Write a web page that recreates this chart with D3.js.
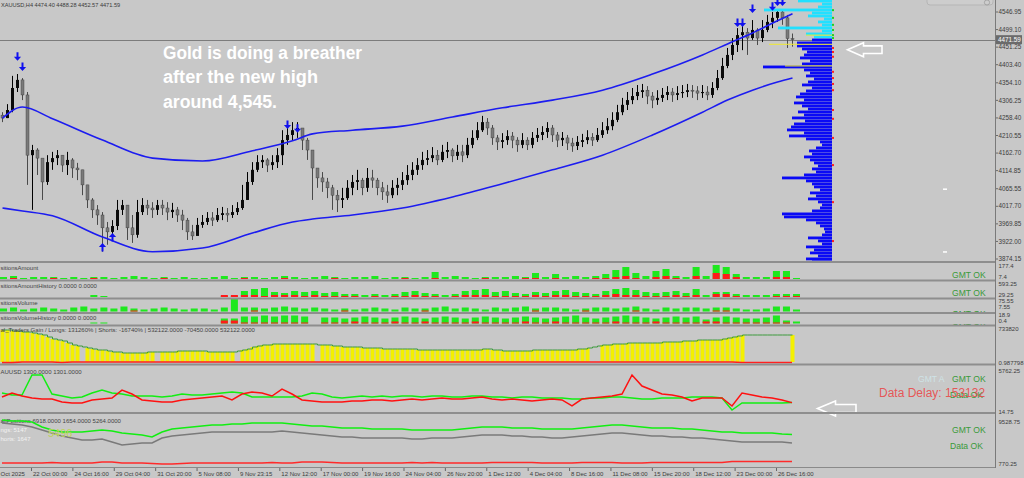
<!DOCTYPE html>
<html><head><meta charset="utf-8">
<script src="https://cdn.jsdelivr.net/npm/d3@7/dist/d3.min.js"></script>
<style>
html,body{margin:0;padding:0;background:#c8c8c8;overflow:hidden;}
svg{display:block;}
text{font-family:"Liberation Sans",Arial,sans-serif;}
</style></head><body>
<svg id="chart" width="1024" height="478"></svg>
<script>
// ---------------- DATA ----------------
const symbol = "XAUUSD,H4";
const firstOpen = 4266;
const closes = [
4258,4280,4340,4362,4321,4157,4171,4149,4084,4138,
4149,4157,4130,4144,4122,4117,4076,4035,4008,3994,
3959,3948,3964,4008,4021,3959,3940,4002,4021,4013,
4008,4021,4013,4002,4008,3994,3980,3948,3937,3967,
3975,3986,3980,3994,3999,3994,4002,4013,4035,4084,
4117,4138,4144,4130,4138,4157,4198,4212,4225,4231,
4198,4171,4122,4095,4084,4068,4048,4035,4040,4068,
4084,4089,4068,4095,4089,4068,4057,4048,4068,4076,
4089,4103,4117,4130,4144,4149,4157,4144,4166,4171,
4155,4166,4157,4185,4204,4225,4247,4231,4204,4193,
4198,4209,4198,4185,4198,4185,4204,4212,4220,4231,
4212,4198,4204,4190,4182,4193,4198,4206,4198,4212,
4225,4236,4253,4274,4294,4307,4318,4329,4334,4318,
4307,4313,4321,4329,4321,4326,4329,4334,4332,4326,
4329,4321,4340,4367,4400,4430,4457,4484,4492,4476,
4498,4476,4498,4520,4531,4547,4531,4474.40,4471.59];
const highs = [
4274,4296,4373,4378,4367,4329,4185,4176,4130,4157,
4166,4171,4157,4166,4149,4136,4117,4076,4040,4021,
4002,3975,3980,4035,4035,4021,3994,4035,4040,4035,
4029,4035,4035,4029,4027,4016,4008,3986,3967,3986,
3994,4002,4002,4013,4016,4013,4021,4029,4076,4111,
4138,4157,4157,4149,4157,4176,4225,4234,4247,4247,
4225,4204,4171,4122,4111,4095,4076,4062,4068,4089,
4103,4117,4095,4122,4117,4095,4084,4076,4089,4095,
4111,4130,4138,4149,4166,4171,4179,4171,4185,4193,
4176,4185,4185,4204,4225,4247,4264,4258,4239,4212,
4217,4225,4220,4206,4217,4206,4220,4231,4236,4247,
4239,4220,4220,4212,4204,4209,4215,4225,4217,4231,
4247,4258,4274,4294,4313,4329,4340,4348,4351,4345,
4329,4334,4340,4345,4340,4345,4348,4351,4348,4345,
4348,4345,4356,4389,4422,4449,4476,4503,4512,4503,
4525,4503,4525,4539,4547,4555,4552,4539,4488.28];
const lows = [
4247,4258,4274,4329,4307,4076,4008,4103,4035,4076,
4117,4130,4111,4103,4095,4089,4048,4013,3986,3967,
3894,3913,3932,3953,3994,3926,3918,3932,3994,3994,
3986,3994,3994,3980,3986,3975,3953,3926,3926,3948,
3959,3967,3964,3975,3980,3975,3986,3994,4008,4035,
4076,4111,4122,4111,4117,4122,4130,4185,4198,4204,
4171,4144,4035,4068,4057,4040,4008,4002,4013,4035,
4048,4062,4048,4057,4068,4048,4035,4027,4040,4048,
4062,4076,4089,4103,4117,4130,4138,4130,4138,4149,
4138,4144,4138,4149,4176,4198,4220,4212,4185,4171,
4176,4185,4176,4166,4176,4171,4176,4193,4198,4204,
4193,4179,4182,4171,4166,4171,4179,4187,4182,4193,
4204,4215,4225,4247,4266,4280,4296,4307,4313,4296,
4285,4294,4302,4307,4302,4307,4313,4315,4313,4307,
4313,4307,4313,4334,4362,4394,4416,4438,4443,4430,
4471,4457,4465,4492,4503,4520,4512,4449,4452.57];

const bandIdx   = [0,4,10,20,30,40,50,58,62,70,80,90,100,110,120,130,140,145,150,155,158];
const upperBand = [4258,4288,4256,4198,4149,4141,4169,4196,4215,4225,4236,4261,4286,4307,4334,4378,4430,4460,4490,4523,4542];
const lowerBand = [4013,4005,3992,3934,3894,3904,3945,3975,3983,3994,4013,4043,4079,4117,4157,4212,4274,4307,4334,4356,4367];

const sellSignals = [[3,4425],[4,4397],[57,4239],[59,4229],[147,4517],[148,4517],[150,4555],[154,4561],[155,4574],[156,4574]];
const buySignals  = [[20,3907],[22,3934]];
const bidPrice = 4471.59;
const priceTicks = ["4546.95","4499.10","4451.25","4403.40","4354.10","4306.25","4258.40","4210.55","4162.70","4114.85","4065.55","4017.70","3969.85","3922.00","3874.15"];

// volume profile (bins from top price downward)
const profileTop = 4577.0, profileStep = 8.17;
const profileVolumes = [
34,10,14,68,20,24,8,14,10,54,
10,26,18,20,35,35,30,25,28,32,
22,30,69,28,22,26,18,24,30,20,
26,32,36,28,38,30,24,34,28,40,
27,38,41,45,28,43,26,12,10,16,
23,20,28,22,18,14,20,16,28,50,
26,20,18,12,22,16,24,14,10,12,
20,50,48,26,16,12,8,7,10,24,
14,10,26,18,22,14,26,20];
const profileLevels = [[4484,26],[4459,63],[4400,47]];
const deltaRedPrices = [4449,4438,4425,4384,4367,4351,4334,4280,4256,4204,4130,4029,3923];
const deltaGreenPrices = [4552,4531,4512,4498,4484,4476];
const pendingLevels = [4065,3894];

const timeLabels = ["Oct 2025","22 Oct 00:00","24 Oct 16:00","29 Oct 04:00","31 Oct 20:00","5 Nov 08:00","9 Nov 23:15","12 Nov 12:00","17 Nov 00:00","19 Nov 16:00","24 Nov 04:00","26 Nov 20:00","1 Dec 12:00","4 Dec 04:00","8 Dec 16:00","11 Dec 08:00","15 Dec 20:00","18 Dec 12:00","23 Dec 00:00","26 Dec 16:00"];

// sub panels (80 slots)
const amountGreen = [2,3,1,2,2,2,1,2,1,2, 2,1,2,3,2,1,2,1,2,1, 1,2,3,1,2,2,1,2,3,2, 1,2,3,2,1,2,2,3,1,2, 2,1,2,7,2,3,2,1,2,2, 2,3,2,6,2,5,2,3,2,3, 5,9,12,6,3,8,10,3,2,12, 3,14,12,5,2,2,2,8,8,1];
const amountRed   = [0,1,0,0,0,1,0,0,0,1, 0,0,0,0,0,0,1,0,0,0, 0,0,0,0,1,0,0,0,1,0, 0,0,0,1,0,0,0,0,0,0, 1,0,0,1,0,0,0,0,1,0, 0,0,1,1,0,1,0,0,0,1, 1,2,3,1,0,2,3,1,0,3, 0,6,5,2,0,0,0,2,2,0];
const amountHistGreen = [0,0,0,0,0,0,0,0,0,2, 1,0,0,0,0,0,0,0,0,0, 0,0,1,1,6,8,9,5,4,6, 5,6,4,5,3,3,2,3,2,3, 5,6,4,3,2,3,6,7,8,5, 6,4,3,5,4,6,7,5,4,3, 6,8,9,7,5,4,5,6,4,8, 2,5,5,3,2,2,2,3,3,3];
const amountHistRed   = [0,0,0,0,0,0,0,0,0,0, 0,0,0,0,0,0,0,0,0,0, 0,0,2,2,2,2,1,2,2,2, 1,2,1,1,1,1,0,1,0,1, 1,2,1,1,0,1,2,2,2,1, 1,1,1,2,1,2,2,1,1,1, 2,3,2,2,1,1,1,2,1,2, 0,3,3,1,0,0,0,1,1,1];
const volumeGreen = [3,4,2,3,4,3,2,4,5,3, 4,3,5,3,2,3,4,3,2,3, 3,2,4,13,4,4,3,4,5,4, 3,4,3,2,3,2,3,4,3,2, 4,3,3,4,5,3,4,3,2,4, 3,4,5,3,4,4,3,2,3,4, 4,3,4,5,3,2,4,3,4,4, 3,4,4,3,2,2,3,5,5,2];
const volumeRed   = [0,0,0,0,0,0,0,0,0,0, 0,0,0,1,0,0,0,0,0,0, 0,0,0,0,0,1,0,0,0,0, 0,0,0,0,1,0,0,0,0,0, 0,0,1,0,0,0,0,0,0,0, 0,0,0,1,0,0,0,0,1,0, 0,0,0,1,0,0,0,0,0,0, 0,1,1,0,0,0,0,0,0,0];
const volumeHistGreen = [0,0,0,0,0,0,0,0,0,1, 1,0,0,0,0,0,0,0,0,0, 0,0,5,5,7,7,8,7,8,8, 7,0,6,6,5,6,7,6,5,6, 7,6,5,6,7,6,5,6,7,6, 5,6,7,6,5,6,7,8,6,5, 6,7,8,7,6,5,6,7,6,7, 4,6,7,6,5,5,6,8,3,2];
const volumeHistRed   = [0,0,0,0,0,0,0,0,0,0, 0,0,0,0,0,0,0,0,0,0, 0,0,3,3,1,1,1,1,1,1, 1,0,1,1,1,2,1,1,1,2, 1,1,2,1,1,1,1,2,1,1, 1,1,2,1,1,2,1,1,1,1, 1,2,1,1,1,2,1,1,1,1, 2,2,1,1,1,1,1,1,1,0];

// traders gain (per bar, 159)
const gain = [
32,32,31,31,30,30,29,28,27,25, 23,22,21,19,17,16,15,14,13,12,
12,11,10,10,9,9,9,9,9,10, 10,10,10,10,10,11,11,11,11,11,
11,10,10,10,10,10,10,11,12,13, 15,16,17,17,18,18,18,18,18,18,
18,18,18,17,17,17,16,16,15,15, 15,15,14,14,14,14,13,13,13,13,
13,13,13,12,12,12,12,12,12,12, 12,12,12,12,12,12,13,13,12,12,
11,11,11,11,11,11,12,12,12,12, 12,12,12,12,12,13,13,14,15,16,
17,17,18,18,18,19,19,19,19,19, 19,19,20,20,20,20,21,21,21,22,
22,22,22,22,23,24,25,26,27,27, 27,27,27,27,27,27,27,27,27];
const gainGaps = [16,31,47,63,118,119,149,150,151,152,153,154,155,156,157];
const gainRed = [-0.6,-0.6,0,0,0,0,-0.5,0,0,0, 0,0,0,0,0,0,0,0,0,0, 0,0,0,0,0,0,0,0,0,0, 0,0,0,0,0,0,0,0,0,0, 0,0,0,0,0,0,0,0,0,0, 0,0,0,0,0,0,0,0,0,0, 0,0,0,0,0,0,0,0,0,0, 0,0,0,0,-0.5,-0.5,-0.5,-0.5,-0.5,-0.5];

// XAUUSD spread / delay panel (80 slots)
const delayGreen = [2610,2340,2340,5080,5080,2480,2200,1930,2070,2610, 3020,2610,2480,2200,2200,2200,2070,2200,2480,2340, 2340,2480,2610,2750,2610,2070,2070,2070,2070,2070, 2200,2610,2480,2070,1930,2070,2200,2070,2200,2070, 2200,2200,2070,2200,2200,2070,2070,2200,2200,2070, 2070,1930,2070,2070,1930,1930,1930,1790,1790,1930, 1930,2070,2070,1930,1790,1790,1930,1930,1930,2070, 2070,2070,1930,290,1250,1250,1250,1250,1250,1300];
const delayRed = [2070,2610,2200,1930,1790,1790,1380,1250,1250,1660, 1790,1930,3020,2480,1660,1520,1380,1380,1660,1790, 1930,2070,2200,1660,2480,2750,2610,2200,3160,2480, 1660,1520,1380,1380,1380,1520,1520,1660,1660,1520, 1660,1790,1660,1790,1930,1790,1790,1930,2070,1790, 1660,1790,1660,1520,1660,1790,1660,840,1790,1930, 2070,2200,2480,5080,3570,3020,2480,2340,2070,1520, 1930,1930,1930,840,2610,2340,2070,1930,1660,1301];

// positions panel (80 slots)
const posGreen = [9720,9530,9530,9330,8360,7780,7390,7390,7390,7580, 7780,7580,7190,7000,6800,6410,7390,7970,8170,8360, 8550,8750,8750,8940,8940,9140,9140,9140,9140,8940, 8750,8550,8550,8360,8170,8170,8170,7970,7970,7970, 7970,7780,7780,7780,7780,7780,7970,8170,8360,8360, 8360,8170,8170,8170,7970,7970,7970,7970,8170,8360, 8550,8750,8750,8550,8360,8170,8170,8170,7970,7970, 7780,7580,7390,7390,7190,7190,7190,7190,7000,6918];
const posGray = [9140,8940,8750,8360,7780,7190,6610,6220,5830,5830, 6020,5440,4860,5050,5250,5250,6220,6610,6800,7000, 7190,7390,7390,7390,7390,7390,7390,7390,7580,7390, 7190,7000,6800,6610,6410,6410,6220,6220,6220,6220, 6220,6020,6020,6220,6220,6220,6410,6610,6800,6800, 6800,6610,6610,6410,6410,6220,6220,6410,6610,6800, 7000,7190,7190,7000,6800,6610,6610,6410,6410,6220, 6220,6020,5830,5640,5440,5440,5440,5440,5440,5264];
const posRed = [1350,1350,1350,1350,1350,1450,1350,1350,1350,1350, 1550,1550,1350,1350,1350,1250,1160,1160,1250,1350, 1350,1350,1350,1350,1350,1350,1350,1450,1350,1350, 1550,1550,1550,1450,1350,1350,1350,1350,1350,1350, 1350,1450,1350,1450,1350,1350,1350,1350,1350,1450, 1450,1450,1450,1450,1350,1350,1350,1350,1450,1450, 1450,1450,1350,1350,1350,1450,1450,1450,1450,1450, 1450,1450,1450,1650,1650,1650,1650,1650,1650,1654];

const noteLines = ["Gold is doing a breather","after the new high","around 4,545."];

// ---------------- DRAW ----------------
const W = 1024, H = 478, AX = 995;
const svg = d3.select("#chart");
svg.append("rect").attr("width", W).attr("height", H).attr("fill", "#c8c8c8");
const defs = svg.append("defs");
function clip(id, x, y, w, h) { defs.append("clipPath").attr("id", id).append("rect").attr("x", x).attr("y", y).attr("width", w).attr("height", h); return `url(#${id})`; }

const n = closes.length;
const bars = d3.range(n).map(i => ({ i, o: i === 0 ? firstOpen : closes[i - 1], h: highs[i], l: lows[i], c: closes[i] }));
const xC = d3.scaleLinear().domain([0, n - 1]).range([2.5, 792.5]);
const yP = d3.scaleLinear().domain([3874.15, 4546.95]).range([259, 12]);

// main panel
const gm = svg.append("g").attr("clip-path", clip("cm", 0, 0, AX, 261));

// bid line
gm.append("line").attr("x1", 0).attr("x2", AX).attr("y1", Math.round(yP(bidPrice)) + 0.5).attr("y2", Math.round(yP(bidPrice)) + 0.5).attr("stroke", "#7c7c7c").attr("stroke-width", 1);

// candles
const cg = gm.append("g");
cg.selectAll("line.w").data(bars).join("line")
  .attr("x1", d => xC(d.i)).attr("x2", d => xC(d.i))
  .attr("y1", d => yP(d.h)).attr("y2", d => yP(d.l))
  .attr("stroke", d => d.c >= d.o ? "#000" : "#4a4a4a").attr("stroke-width", 1);
cg.selectAll("rect.b").data(bars).join("rect")
  .attr("x", d => xC(d.i) - 1.5).attr("width", 3)
  .attr("y", d => yP(Math.max(d.o, d.c)))
  .attr("height", d => Math.max(1, Math.abs(yP(d.o) - yP(d.c))))
  .attr("fill", d => d.c >= d.o ? "#0a0a0a" : "#7a7a7a")
  .attr("stroke", d => d.c >= d.o ? "none" : "#3a3a3a").attr("stroke-width", 0.4);

// bands
const bandLine = d3.line().x(d => xC(d[0])).y(d => yP(d[1])).curve(d3.curveMonotoneX);
[upperBand, lowerBand].forEach(b => {
  gm.append("path").attr("d", bandLine(bandIdx.map((ix, k) => [ix, b[k]])))
    .attr("fill", "none").attr("stroke", "#1c1cf0").attr("stroke-width", 1.6);
});

// volume profile
const xPr = d3.scaleLinear().domain([0, 70]).range([832, 762]);
const prof = profileVolumes.map((v, k) => ({ v, p: profileTop - k * profileStep }));
gm.append("g").selectAll("rect").data(prof).join("rect")
  .attr("x", d => xPr(d.v)).attr("width", d => xPr(0) - xPr(d.v))
  .attr("y", d => yP(d.p) - 1.4).attr("height", 2.8)
  .attr("fill", d => d.p > bidPrice ? "#22e0ff" : "#0a0af5");
gm.append("g").selectAll("line").data(profileLevels).join("line")
  .attr("x1", d => xPr(d[1])).attr("x2", xPr(0))
  .attr("y1", d => yP(d[0])).attr("y2", d => yP(d[0]))
  .attr("stroke", "#f0ea30").attr("stroke-width", 1);
gm.append("g").selectAll("rect").data(deltaRedPrices).join("rect")
  .attr("x", 832).attr("y", d => yP(d) - 1).attr("width", 2).attr("height", 2).attr("fill", "#ff2020");
gm.append("g").selectAll("rect").data(deltaGreenPrices).join("rect")
  .attr("x", 832).attr("y", d => yP(d) - 1).attr("width", 2).attr("height", 2).attr("fill", "#20d020");
gm.append("g").selectAll("rect").data(pendingLevels).join("rect")
  .attr("x", 943).attr("y", d => yP(d) - 0.5).attr("width", 4).attr("height", 1.5).attr("fill", "#ffffff");

// signal arrows
function arrowDown(cx, cy) { return `M${cx - 1},${cy - 4.5}h2v4.5h2.6l-3.6,4l-3.6,-4h2.6z`; }
function arrowUp(cx, cy) { return `M${cx - 1},${cy + 4.5}h2v-4.5h2.6l-3.6,-4l-3.6,4h2.6z`; }
gm.append("g").selectAll("path").data(sellSignals).join("path")
  .attr("d", d => arrowDown(xC(d[0]), yP(d[1]))).attr("fill", "#1010ee");
gm.append("g").selectAll("path").data(buySignals).join("path")
  .attr("d", d => arrowUp(xC(d[0]), yP(d[1]))).attr("fill", "#1010ee");

// note
const nt = svg.append("g");
const noteW = [199, 155, 114];
noteLines.forEach((t, k) => {
  nt.append("text").attr("x", 163).attr("y", 58.5 + k * 24.5).text(t)
    .attr("font-family", "Lato, 'Open Sans', sans-serif").attr("font-weight", 700)
    .attr("font-size", 17.5).attr("fill", "#ffffff")
    .attr("textLength", noteW[k]).attr("lengthAdjust", "spacingAndGlyphs");
});

// header
const last = bars[n - 1];
svg.append("text").attr("x", 1).attr("y", 6.5).attr("font-size", 5.6).attr("fill", "#3a3a3a")
  .text(`${symbol}  ${last.o.toFixed(2)} ${last.h.toFixed(2)} ${last.l.toFixed(2)} ${last.c.toFixed(2)}`);

// top-right widget
svg.append("rect").attr("x", 927).attr("y", -4).attr("width", 66).attr("height", 9).attr("rx", 3).attr("fill", "#cdcdcd").attr("stroke", "#b5b5b5");
svg.append("circle").attr("cx", 987).attr("cy", 2.5).attr("r", 2.6).attr("fill", "none").attr("stroke", "#9a9a9a").attr("stroke-width", 0.8);

// white hint arrows
function hintArrow(x0, yc, len, head, hh, sh) {
  return `M${x0},${yc}L${x0 + head},${yc - hh}L${x0 + head},${yc - sh}L${x0 + len},${yc - sh}L${x0 + len},${yc + sh}L${x0 + head},${yc + sh}L${x0 + head},${yc + hh}Z`;
}
svg.append("path").attr("d", hintArrow(847.5, 49.7, 34.5, 16, 7, 3.8)).attr("fill", "none").attr("stroke", "#ffffff").attr("stroke-width", 1.6);
svg.append("path").attr("d", hintArrow(817.5, 408.5, 38.5, 18, 7.5, 4)).attr("fill", "none").attr("stroke", "#ffffff").attr("stroke-width", 1.6);

// price axis labels
const ax = svg.append("g");
ax.selectAll("text").data(priceTicks).join("text")
  .attr("x", 998.5).attr("y", d => yP(+d) + 2.2).attr("font-size", 6.3).attr("fill", "#3c3c3c").text(d => d);
ax.selectAll("line").data(priceTicks).join("line")
  .attr("x1", AX).attr("x2", AX + 3).attr("y1", d => yP(+d)).attr("y2", d => yP(+d)).attr("stroke", "#6a6a6a");
const by = yP(bidPrice);
svg.append("rect").attr("x", 996).attr("y", by - 4.5).attr("width", 26).attr("height", 9).attr("fill", "#6b6b6b");
svg.append("text").attr("x", 998).attr("y", by + 2.2).attr("font-size", 6.3).attr("fill", "#ffffff").text(bidPrice.toFixed(2));

// ---------- sub panels ----------
const xS = d3.scaleBand().domain(d3.range(80)).range([0, 800]).paddingInner(0.3);
const xL = d3.scaleLinear().domain([0, 79]).range([2, 792]);

function barPanel(id, top, bottom, maxV, greenArr, redArr, title, gmtY) {
  const g = svg.append("g").attr("clip-path", clip(id, 0, top, AX, bottom - top + 1.5));
  const y = d3.scaleLinear().domain([0, maxV]).range([bottom, top]);
  g.selectAll("rect.g").data(greenArr).join("rect")
    .attr("x", (d, i) => xS(i)).attr("width", xS.bandwidth())
    .attr("y", d => y(d)).attr("height", d => y(0) - y(d)).attr("fill", "#1ee81e");
  g.selectAll("rect.r").data(redArr).join("rect")
    .attr("x", (d, i) => xS(i)).attr("width", xS.bandwidth())
    .attr("y", d => y(d)).attr("height", d => y(0) - y(d)).attr("fill", "#ff1a1a");
  g.append("text").attr("x", 0.5).attr("y", top + 5.5).attr("font-size", 6).attr("fill", "#444").text(title);
  g.append("text").attr("x", 952).attr("y", gmtY).attr("font-size", 8.6).attr("fill", "#3a9a3a").text("GMT OK");
}
barPanel("p1", 264, 279, 15, amountGreen, amountRed, "sitionsAmount", 278);
barPanel("p2", 282, 297, 15, amountHistGreen, amountHistRed, "sitionsAmountHistory 0.0000 0.0000", 296);
barPanel("p3", 299, 311.5, 12.5, volumeGreen, volumeRed, "sitionsVolume", 317);
barPanel("p4", 314, 323.5, 9.5, volumeHistGreen, volumeHistRed, "sitionsVolumeHistory 0.0000 0.0000", 330);

// gain panel
{
  const g = svg.append("g").attr("clip-path", clip("p5", 0, 326, AX, 38));
  const y = d3.scaleLinear().domain([0, 36]).range([362, 326]);
  const shown = gain.map((v, i) => ({ v, i })).filter(d => !gainGaps.includes(d.i));
  g.selectAll("rect").data(shown).join("rect")
    .attr("x", d => xC(d.i) - 2).attr("width", 4)
    .attr("y", d => y(d.v)).attr("height", d => y(0) - y(d.v)).attr("fill", "#f4f000");
  g.append("path").attr("d", d3.line().x((d, i) => xC(i)).y(d => y(d)).curve(d3.curveStepAfter)(gain))
    .attr("fill", "none").attr("stroke", "#3d9a3d").attr("stroke-width", 1);
  g.append("path").attr("d", d3.line().x((d, i) => xL(i)).y(d => y(d))(gainRed))
    .attr("fill", "none").attr("stroke", "#ff2020").attr("stroke-width", 1.6);
  g.append("text").attr("x", 0.5).attr("y", 332).attr("font-size", 6).attr("fill", "#444")
    .text("al_Traders Gain   /   Longs: 131260% | Shorts: -16740% |   532122.0000 -70450.0000 532122.0000");
}

// delay panel
{
  const g = svg.append("g").attr("clip-path", clip("p6", 0, 366, AX, 47));
  const y = d3.scaleLinear().domain([14.75, 5762.25]).range([412, 370]);
  const ln = d3.line().x((d, i) => xL(i)).y(d => y(d));
  g.append("path").attr("d", ln(delayGreen)).attr("fill", "none").attr("stroke", "#12ee12").attr("stroke-width", 1.5);
  g.append("path").attr("d", ln(delayRed)).attr("fill", "none").attr("stroke", "#ff1010").attr("stroke-width", 1.5);
  g.append("text").attr("x", 0.5).attr("y", 374).attr("font-size", 6).attr("fill", "#444").text("AUUSD 1300.0000 1301.0000");
  g.append("text").attr("x", 918).attr("y", 382).attr("font-size", 8.6).attr("fill", "#cfe3e6").text("GMT A");
  g.append("text").attr("x", 952).attr("y", 382).attr("font-size", 8.6).attr("fill", "#3a9a3a").text("GMT OK");
  g.append("text").attr("x", 950).attr("y", 397.5).attr("font-size", 8.6).attr("fill", "#3a9a3a").text("Data OK");
  g.append("text").attr("x", 879).attr("y", 397).attr("font-size", 12).attr("fill", "#e84848").attr("fill-opacity", 0.9).text("Data Delay: 153132");
}

// positions panel
{
  const g = svg.append("g").attr("clip-path", clip("p7", 0, 415, AX, 52));
  const y = d3.scaleLinear().domain([770.25, 9528.75]).range([466, 421]);
  const ln = d3.line().x((d, i) => xL(i)).y(d => y(d));
  g.append("text").attr("x", 0.5).attr("y", 423).attr("font-size", 6).attr("fill", "#444").text("allPositions 6918.0000 1654.0000 5264.0000");
  g.append("path").attr("d", ln(posGray)).attr("fill", "none").attr("stroke", "#7a7a7a").attr("stroke-width", 1.5);
  g.append("path").attr("d", ln(posGreen)).attr("fill", "none").attr("stroke", "#12ee12").attr("stroke-width", 1.5);
  g.append("path").attr("d", ln(posRed)).attr("fill", "none").attr("stroke", "#ff2a2a").attr("stroke-width", 1.5);
  g.append("text").attr("x", 0.5).attr("y", 432).attr("font-size", 6).attr("fill", "#f2f2f2").text("ngs: 5147");
  g.append("text").attr("x", 0.5).attr("y", 441).attr("font-size", 6).attr("fill", "#f2f2f2").text("horts: 1647");
  g.append("text").attr("x", 48).attr("y", 437).attr("font-size", 11).attr("fill", "#bcd35a").text("5496");
  g.append("text").attr("x", 952).attr("y", 433).attr("font-size", 8.6).attr("fill", "#3a9a3a").text("GMT OK");
  g.append("text").attr("x", 950).attr("y", 448.5).attr("font-size", 8.6).attr("fill", "#3a9a3a").text("Data OK");
}

// dividers
[261, 279.5, 297.5, 312, 324.5, 363.5, 412].forEach(yv => {
  svg.append("rect").attr("x", 0).attr("y", yv).attr("width", AX).attr("height", 2).attr("fill", "#8e8e8e");
});
svg.append("line").attr("x1", 0).attr("x2", AX).attr("y1", 467.5).attr("y2", 467.5).attr("stroke", "#8a8a8a");
svg.append("line").attr("x1", AX + 0.5).attr("x2", AX + 0.5).attr("y1", 0).attr("y2", 468).attr("stroke", "#7a7a7a");

// sub-panel axis labels
const subLabels = [["177.4",268],["7.4",279],["593.25",286],["29.25",297],["75.55",302.5],["7.55",309],["18.9",317],["0.4",322.5],["733820",331],["0.987798",364.5],["5762.25",373],["14.75",414],["9528.75",423.5],["770.25",466]];
svg.append("g").selectAll("text").data(subLabels).join("text")
  .attr("x", 998.5).attr("y", d => d[1]).attr("font-size", 6).attr("fill", "#3c3c3c").text(d => d[0]);

// time axis
const xT = d3.scalePoint().domain(timeLabels).range([-10.4, 776]);
const tg = svg.append("g");
tg.selectAll("line").data(timeLabels.slice(1)).join("line")
  .attr("x1", d => xT(d) + 0.5).attr("x2", d => xT(d) + 0.5).attr("y1", 468).attr("y2", 471).attr("stroke", "#666");
tg.selectAll("text").data(timeLabels).join("text")
  .attr("x", (d, i) => i === 0 ? 0.5 : xT(d) + 2).attr("y", 475.5).attr("font-size", 6).attr("fill", "#3c3c3c").text(d => d);
</script>
</body></html>
